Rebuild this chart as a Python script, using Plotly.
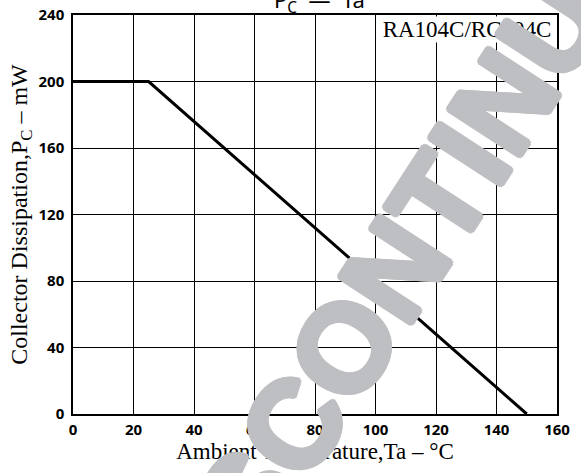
import plotly.graph_objects as go

# Derating curve: collector dissipation vs ambient temperature
temperature = [0, 25, 150]
dissipation = [200, 200, 0]

x_ticks = [0, 20, 40, 60, 80, 100, 120, 140, 160]
y_ticks = [0, 40, 80, 120, 160, 200, 240]

title_text = "P<sub>C</sub>  —  Ta"
part_label = "RA104C/RC104C"
x_title = "Ambient Temperature,Ta – °C"
y_title = "Collector Dissipation,P<sub>C</sub> – mW"
watermark = "DISCONTINUED"

tick_font = dict(family="Noto Sans", size=15, color="black", weight="bold")
serif = "Liberation Serif"
wm_color = "#bebfc2"
wm_shadow = ", ".join(
    f"{dx}px {dy}px 0 {wm_color}"
    for dx, dy in [(3, 0), (-3, 0), (0, 3), (0, -3), (2, 2), (-2, 2), (2, -2), (-2, -2)]
)

fig = go.Figure()
fig.add_trace(go.Scatter(
    x=temperature, y=dissipation, mode="lines",
    line=dict(color="black", width=3), showlegend=False, hoverinfo="skip",
))

fig.update_layout(
    width=581, height=473,
    margin=dict(l=73, r=24, t=15, b=59),
    paper_bgcolor="white", plot_bgcolor="white",
    xaxis=dict(
        range=[0, 160], tickvals=x_ticks, ticktext=[str(v) for v in x_ticks],
        showgrid=True, gridcolor="black", gridwidth=1,
        showline=True, mirror=True, linecolor="black", linewidth=1.5,
        zeroline=False, ticks="", tickfont=tick_font, ticklabelstandoff=1,
        automargin=False,
        title=dict(text=x_title, font=dict(family=serif, size=23, color="black"), standoff=0),
    ),
    yaxis=dict(
        range=[0, 240], tickvals=y_ticks, ticktext=[str(v) for v in y_ticks],
        showgrid=True, gridcolor="black", gridwidth=1.3,
        showline=True, mirror=True, linecolor="black", linewidth=1.5,
        zeroline=False, ticks="", tickfont=tick_font, ticklabelstandoff=4,
        automargin=False,
        title=dict(text=y_title, font=dict(family=serif, size=24, color="black"), standoff=4),
    ),
    annotations=[
        dict(text=title_text, xref="paper", yref="paper", x=0.51, y=1.0, yshift=-5,
             xanchor="center", yanchor="bottom", showarrow=False,
             font=dict(family="Noto Sans", size=22, color="black")),
        dict(text=part_label, xref="paper", yref="paper", x=0.815, y=1.0, yshift=-1,
             xanchor="center", yanchor="top", showarrow=False, width=176, height=25,
             bgcolor="white", borderpad=0,
             font=dict(family=serif, size=23, color="black")),
        dict(text=watermark, xref="paper", yref="paper", x=0.705, y=0.435,
             xanchor="center", yanchor="middle", showarrow=False, textangle=-57,
             font=dict(family="Liberation Sans", size=124, color=wm_color,
                       weight="bold", shadow=wm_shadow)),
    ],
)

fig.write_html("out.html", config={"displayModeBar": False},
               post_script="document.body.style.margin='0';")
